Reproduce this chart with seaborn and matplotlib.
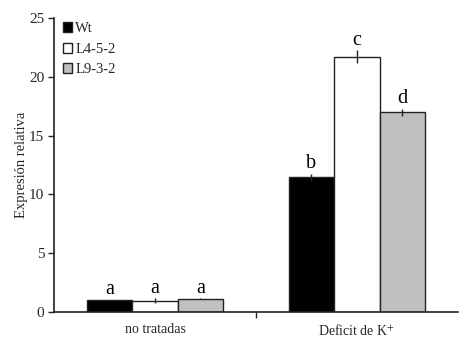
import matplotlib
matplotlib.use("Agg")
import matplotlib.pyplot as plt
import seaborn as sns
import pandas as pd
from matplotlib.patches import Patch

# Relative expression per treatment and line
treatments = ["no tratadas", "Deficit de K$^{+}$"]
lines = ["Wt", "L4-5-2", "L9-3-2"]
values = {
    "Wt": [1.0, 11.45],
    "L4-5-2": [0.97, 21.7],
    "L9-3-2": [1.12, 17.0],
}
errors = {
    "Wt": [0.05, 0.3],
    "L4-5-2": [0.2, 0.55],
    "L9-3-2": [0.05, 0.3],
}
letters = {
    "Wt": ["a", "b"],
    "L4-5-2": ["a", "c"],
    "L9-3-2": ["a", "d"],
}
colors = ["#000000", "#ffffff", "#c0c0c0"]
yticks = [0, 5, 10, 15, 20, 25]

rows = []
for ln in lines:
    for t, v in zip(treatments, values[ln]):
        rows.append({"Tratamiento": t, "Línea": ln, "Expresión": v})
df = pd.DataFrame(rows)

sns.set_theme(style="white")
plt.rcParams["font.family"] = ["Liberation Serif", "DejaVu Serif"]
plt.rcParams["mathtext.fontset"] = "stix"

fig = plt.figure(figsize=(4.59, 3.37), dpi=100)
ax = fig.add_axes([0.1176, 0.0742, 0.88, 0.872])

sns.barplot(data=df, x="Tratamiento", y="Expresión", hue="Línea",
            order=treatments, hue_order=lines, palette=colors,
            width=0.675, edgecolor="#222222", linewidth=1.0,
            errorbar=None, legend=False, ax=ax)

# Error bars and significance letters placed on each bar
bars = [p for p in ax.patches if p.get_height() > 0]
for i, ln in enumerate(lines):
    for j in range(len(treatments)):
        p = bars[i * len(treatments) + j]
        xc = p.get_x() + p.get_width() / 2
        v = values[ln][j]
        e = errors[ln][j]
        ax.errorbar(xc, v, yerr=e, fmt="none", ecolor="#222222",
                    elinewidth=1.0, capsize=0)
        ax.text(xc, v + e + 0.05, letters[ln][j], ha="center", va="bottom",
                fontsize=14.5, color="black")

ax.set_xlim(-0.5, 1.5)
ax.set_ylim(0, 25)
ax.set_yticks(yticks)
ax.set_yticklabels([str(t) for t in yticks], fontsize=11)
ax.set_xticks([0, 1])
ax.set_xticklabels(treatments, fontsize=10)
ax.set_xticks([0.5], minor=True)
ax.tick_params(axis="x", which="major", length=0, pad=8)
ax.tick_params(axis="x", which="minor", bottom=True, length=4, width=1.0,
               color="#222222", direction="out")
ax.tick_params(axis="y", left=True, length=4, width=1.0, color="#222222",
               direction="out", pad=3)
ax.set_xlabel("")
ax.set_ylabel("Expresión relativa", fontsize=10.5, labelpad=1)

for side in ["top", "right"]:
    ax.spines[side].set_visible(False)
for side in ["left", "bottom"]:
    ax.spines[side].set_color("#222222")
    ax.spines[side].set_linewidth(1.2)

handles = [Patch(facecolor=c, edgecolor="#222222", linewidth=1.0) for c in colors]
ax.legend(handles, lines, loc="upper left", bbox_to_anchor=(0.0, 1.015),
          frameon=False, fontsize=10.5, handlelength=0.65, handleheight=0.65,
          handletextpad=0.2, labelspacing=0.5, borderaxespad=0.2)

fig.savefig("out.png", dpi=100)
